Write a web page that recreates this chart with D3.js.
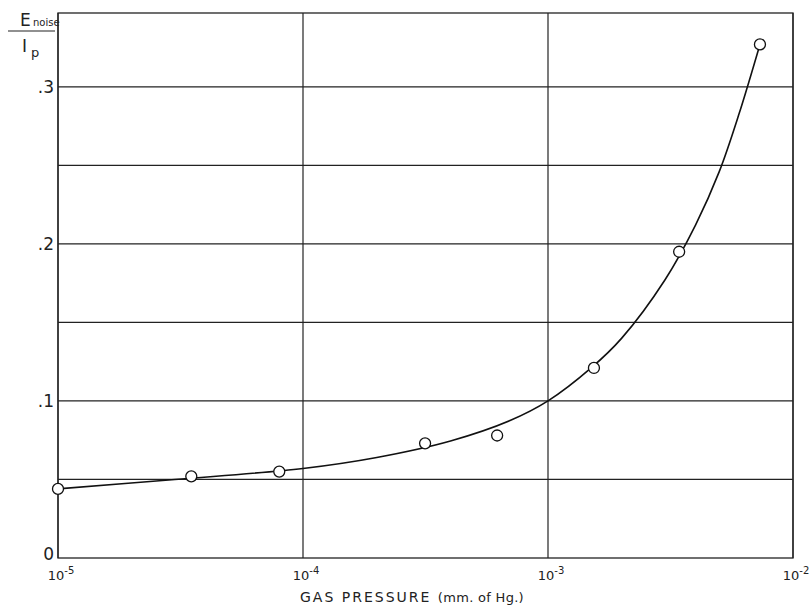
<!DOCTYPE html>
<html><head><meta charset="utf-8">
<script src="https://cdn.jsdelivr.net/npm/d3@7"></script>
<style>body{margin:0;background:#fff}svg{display:block}</style>
</head><body>
<script>
// measured points
const pressure = [1e-5, 3.5e-5, 8.0e-5, 3.15e-4, 6.2e-4, 1.54e-3, 3.43e-3, 7.33e-3];
const noiseRatio = [0.044, 0.052, 0.055, 0.073, 0.078, 0.121, 0.195, 0.327];
// smooth fitted curve
const curveP = [1e-5, 3e-5, 1e-4, 2e-4, 4e-4, 7e-4, 1e-3, 1.5e-3, 2e-3, 3e-3, 4e-3, 5e-3, 6e-3, 7.33e-3];
const curveV = [0.044, 0.050, 0.057, 0.064, 0.0745, 0.0875, 0.100, 0.121, 0.140, 0.177, 0.212, 0.246, 0.282, 0.327];
const xTicks = [1e-5, 1e-4, 1e-3, 1e-2];
const xTickExp = ["-5", "-4", "-3", "-2"];
const yTicks = [0, 0.1, 0.2, 0.3];
const yTickLabels = ["0", ".1", ".2", ".3"];
const yGrid = [0.05, 0.1, 0.15, 0.2, 0.25, 0.3];

const W = 811, H = 608;
const svg = d3.select("body").append("svg").attr("width", W).attr("height", H);
const x = d3.scaleLog().domain([1e-5, 1e-2]).range([58, 793]);
const y = d3.scaleLinear().domain([0, 0.347]).range([558, 13]);
const ink = "#222";
const font = "'DejaVu Sans', sans-serif";

// gridlines
svg.append("g").selectAll("line").data(yGrid).join("line")
  .attr("x1", x(1e-5)).attr("x2", x(1e-2))
  .attr("y1", d => y(d)).attr("y2", d => y(d))
  .attr("stroke", ink).attr("stroke-width", 1.2);
svg.append("g").selectAll("line").data(xTicks).join("line")
  .attr("x1", d => x(d)).attr("x2", d => x(d))
  .attr("y1", y(0)).attr("y2", y(0.347))
  .attr("stroke", ink).attr("stroke-width", 1.2);
// frame
svg.append("rect").attr("x", x(1e-5)).attr("y", y(0.347))
  .attr("width", x(1e-2) - x(1e-5)).attr("height", y(0) - y(0.347))
  .attr("fill", "none").attr("stroke", ink).attr("stroke-width", 1.3);

// y tick labels
svg.append("g").selectAll("text").data(yTicks).join("text")
  .attr("x", x(1e-5) - 4).attr("y", (d) => y(d) + (d === 0 ? 2 : 6))
  .attr("text-anchor", "end").attr("font-family", font).attr("font-size", 17)
  .attr("fill", ink).text((d, i) => yTickLabels[i]);

// x tick labels
const xt = svg.append("g").selectAll("text").data(xTicks).join("text")
  .attr("x", d => x(d) + 3).attr("y", 580)
  .attr("text-anchor", "middle").attr("font-family", font).attr("font-size", 13)
  .attr("fill", ink);
xt.append("tspan").text("10");
xt.append("tspan").attr("dy", -6).attr("font-size", 10).text((d, i) => xTickExp[i]);

// x axis title
svg.append("text").attr("x", 300).attr("y", 602)
  .attr("font-family", font).attr("font-size", 14).attr("fill", ink)
  .attr("letter-spacing", 2)
  .text("GAS  PRESSURE ")
  .append("tspan").attr("letter-spacing", 0.3).attr("font-size", 13).text(" (mm. of Hg.)");

// y axis title (fraction)
const yt = svg.append("g").attr("font-family", font).attr("fill", ink);
yt.append("text").attr("x", 20).attr("y", 26).attr("font-size", 17).text("E");
yt.append("text").attr("x", 33).attr("y", 26).attr("font-size", 10).text("noise");
yt.append("line").attr("x1", 8).attr("x2", 55).attr("y1", 31).attr("y2", 31)
  .attr("stroke", ink).attr("stroke-width", 1.2);
yt.append("text").attr("x", 22).attr("y", 52).attr("font-size", 17).text("I");
yt.append("text").attr("x", 31).attr("y", 57).attr("font-size", 13).text("p");

// fitted curve
const curveData = curveP.map((p, i) => [p, curveV[i]]);
svg.append("path").datum(curveData)
  .attr("d", d3.line().x(d => x(d[0])).y(d => y(d[1])).curve(d3.curveCatmullRom.alpha(0.5)))
  .attr("fill", "none").attr("stroke", "#111").attr("stroke-width", 1.6);

// points
svg.append("g").selectAll("circle").data(pressure.map((p, i) => [p, noiseRatio[i]])).join("circle")
  .attr("cx", d => x(d[0])).attr("cy", d => y(d[1])).attr("r", 5.5)
  .attr("fill", "#fff").attr("stroke", "#111").attr("stroke-width", 1.3);
</script>
</body></html>
